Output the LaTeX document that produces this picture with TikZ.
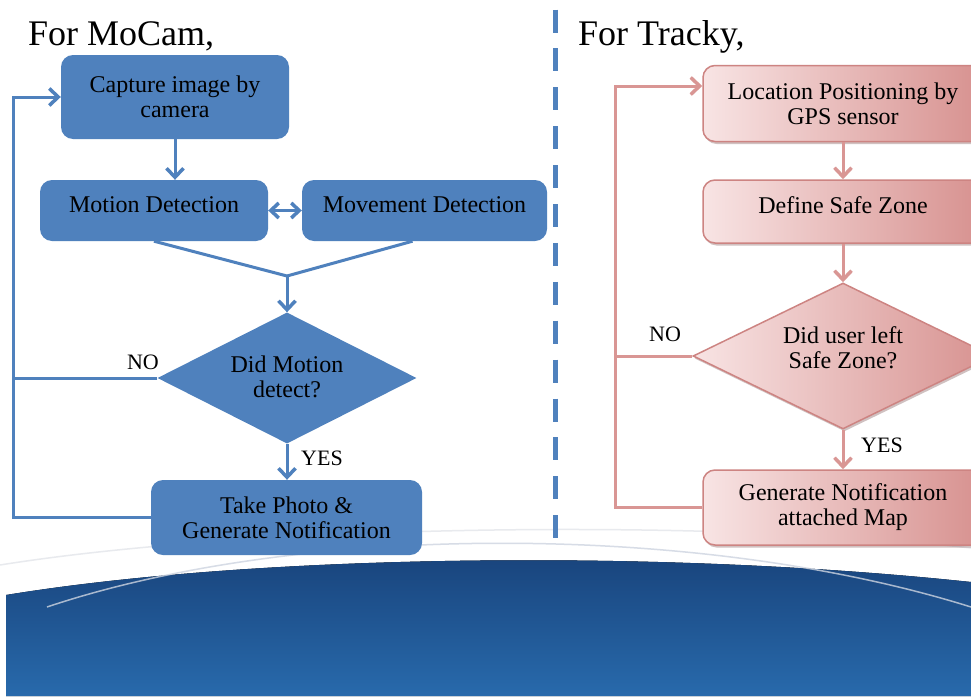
\documentclass[tikz,border=0pt]{standalone}
\usepackage{fontspec}
\setmainfont{Liberation Serif}
\usetikzlibrary{shapes.geometric,arrows.meta,shadows}
\definecolor{mblue}{RGB}{79,129,189}
\definecolor{pinkL}{RGB}{248,228,228}
\definecolor{pinkD}{RGB}{215,145,143}
\definecolor{pinkB}{RGB}{205,132,130}
\definecolor{pinkLine}{RGB}{217,150,148}
\definecolor{bgA}{RGB}{24,66,122}
\definecolor{bgB}{RGB}{46,92,156}
\definecolor{bgC}{RGB}{40,106,172}
\definecolor{arcA}{RGB}{205,212,224}
\definecolor{arcB}{RGB}{232,234,238}
\newcommand{\dtext}[2]{\raisebox{#1}[0pt][0pt]{\makebox[0pt]{\begin{tabular}{@{}c@{}}#2\end{tabular}}}}
\tikzset{
  txt/.style={font=\fontsize{24}{25}\selectfont, align=center, text=black, inner sep=0pt},
  bluebox/.style={txt, rectangle, rounded corners=12pt, fill=mblue},
  bluedia/.style={txt, diamond, fill=mblue},
  pinkbox/.style={txt, rectangle, rounded corners=12pt, left color=pinkL, right color=pinkD,
    draw=pinkB, line width=1.5pt,
    drop shadow={shadow xshift=1.5pt, shadow yshift=-2.5pt, opacity=0.35, fill=pinkB!60!black}},
  pinkdia/.style={txt, diamond, left color=pinkL, right color=pinkD,
    draw=pinkB, line width=1.5pt,
    drop shadow={shadow xshift=1.5pt, shadow yshift=-2.5pt, opacity=0.35, fill=pinkB!60!black}},
  lbl/.style={font=\fontsize{22}{24}\selectfont, text=black, inner sep=0pt},
  ttl/.style={font=\fontsize{36}{40}\selectfont, text=black, inner sep=0pt, anchor=base west},
  bline/.style={draw=mblue, line width=3pt},
  barr/.style={bline, -{Straight Barb[length=9pt,width=17pt,line width=3.5pt]}},
  bdbl/.style={bline, {Straight Barb[length=8pt,width=15pt,line width=3.5pt]}-{Straight Barb[length=8pt,width=15pt,line width=3.5pt]}},
  pline/.style={draw=pinkLine, line width=3pt},
  parr/.style={pline, -{Straight Barb[length=9pt,width=17pt,line width=3.5pt]}},
  sepline/.style={draw=mblue, line width=5pt, dash pattern=on 23pt off 15.9pt},
}
\begin{document}
\begin{tikzpicture}[x=1pt,y=-1pt]
\useasboundingbox (0,0) rectangle (971,696);
\clip (0,0) rectangle (971,696);
\fill[white] (0,0) rectangle (971,696);
% background band
\fill[top color=bgA, middle color=bgB, bottom color=bgC]
  (6,696) -- (6,595) .. controls (250,555) and (650,548) .. (971,582) -- (971,696) -- cycle;
\draw[arcB, line width=1.5pt] (0,565) .. controls (250,525) and (700,518) .. (971,548);
\draw[arcA, line width=1.5pt, opacity=0.8] (47,607) .. controls (300,522) and (700,522) .. (971,607);
% separator
\draw[sepline] (555,9.5) -- (555,540);
% titles
\node[ttl] (t1) at (28,45) {For MoCam,};
\node[ttl] (t2) at (578,45) {For Tracky,};
% ---------- MoCam ----------
\node[bluebox, minimum width=228pt, minimum height=84pt] (cap) at (175,97) {Capture image by\\camera};
\node[bluebox, minimum width=228pt, minimum height=61pt, text depth=12pt] (mot) at (154,210.5) {Motion Detection};
\node[bluebox, minimum width=245pt, minimum height=61pt, text depth=12pt] (mov) at (424.5,210.5) {Movement Detection};
\node[bluedia, minimum width=259pt, minimum height=131pt] (d1) at (287,378) {\dtext{-8pt}{Did Motion\\detect?}};
\node[bluebox, minimum width=271pt, minimum height=75pt] (take) at (286.5,517.5) {Take Photo \&\\Generate Notification};
\node[lbl] (no1) at (143,362) {NO};
\node[lbl] (yes1) at (322,458) {YES};
\coordinate (lx) at (13,97);
\coordinate (j) at (287,276);
\draw[barr] (cap.south) -- (cap.south |- mot.north);
\draw[bdbl] (mot.east) -- (mov.west);
\draw[bline] (mot.south) -- (j);
\draw[bline] ([xshift=-12pt]mov.south) -- (j);
\draw[barr] (j) -- (d1.north);
\draw[barr] (d1.south) -- (d1.south |- take.north);
\draw[barr] (take.west) -- (take.west -| lx) -- (lx) -- (cap.west);
\draw[bline] (d1.west) -- (d1.west -| lx);
% ---------- Tracky ----------
\node[pinkbox, minimum width=280pt, minimum height=76pt] (loc) at (843,103.5) {Location Positioning by\\GPS sensor};
\node[pinkbox, minimum width=280pt, minimum height=63pt, text depth=12pt] (def) at (843,211.5) {Define Safe Zone};
\node[pinkdia, minimum width=300pt, minimum height=146pt] (d2) at (843,356) {\dtext{-1pt}{Did user left\\Safe Zone?}};
\node[pinkbox, minimum width=280pt, minimum height=75pt] (gen) at (843,507.5) {Generate Notification\\attached Map};
\node[lbl] (no2) at (665,334) {NO};
\node[lbl] (yes2) at (882,445) {YES};
\coordinate (rx) at (615,86);
\draw[parr] (loc.south) -- (def.north);
\draw[parr] (def.south) -- (d2.north);
\draw[parr] (d2.south) -- (gen.north);
\draw[parr] (gen.west) -- (gen.west -| rx) -- (rx) -- (rx -| loc.west);
\draw[pline] (d2.west) -- (d2.west -| rx);
\end{tikzpicture}
\end{document}
